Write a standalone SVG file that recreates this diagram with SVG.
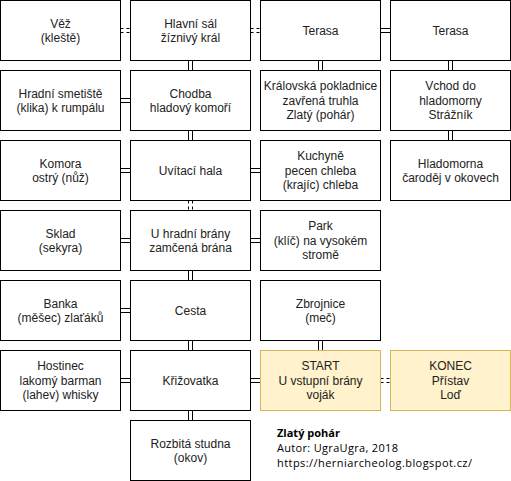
<svg xmlns="http://www.w3.org/2000/svg" width="511" height="481" viewBox="0 0 511 481">
<style>
.n rect{fill:#fff;stroke:#000;stroke-width:1}
.y rect{fill:#fff2cc;stroke:#d6b656;stroke-width:1}
.n text,.y text{font-family:"Liberation Sans",Arial,sans-serif;font-size:12px;fill:#222;text-anchor:middle}
.e line{stroke:#000;stroke-width:1}
.e .d{stroke-dasharray:3,3}
.note{font-family:"Open Sans","Noto Sans",sans-serif;font-size:11px;fill:#000}
</style>
<rect width="511" height="481" fill="#fff"/>
<g id="connectors" class="e">
<line class="d" x1="120.5" y1="28.5" x2="130.5" y2="28.5"/><line class="d" x1="120.5" y1="32.5" x2="130.5" y2="32.5"/>
<line class="d" x1="250.5" y1="28.5" x2="260.5" y2="28.5"/><line class="d" x1="250.5" y1="32.5" x2="260.5" y2="32.5"/>
<line x1="380.5" y1="28.5" x2="390.5" y2="28.5"/><line x1="380.5" y1="32.5" x2="390.5" y2="32.5"/>
<line x1="188.5" y1="60.5" x2="188.5" y2="70.5"/><line x1="192.5" y1="60.5" x2="192.5" y2="70.5"/>
<line x1="318.5" y1="60.5" x2="318.5" y2="70.5"/><line x1="322.5" y1="60.5" x2="322.5" y2="70.5"/>
<line x1="448.5" y1="60.5" x2="448.5" y2="70.5"/><line x1="452.5" y1="60.5" x2="452.5" y2="70.5"/>
<line x1="120.5" y1="98.5" x2="130.5" y2="98.5"/><line x1="120.5" y1="102.5" x2="130.5" y2="102.5"/>
<line x1="188.5" y1="130.5" x2="188.5" y2="140.5"/><line x1="192.5" y1="130.5" x2="192.5" y2="140.5"/>
<line x1="448.5" y1="130.5" x2="448.5" y2="140.5"/><line x1="452.5" y1="130.5" x2="452.5" y2="140.5"/>
<line x1="120.5" y1="168.5" x2="130.5" y2="168.5"/><line x1="120.5" y1="172.5" x2="130.5" y2="172.5"/>
<line x1="250.5" y1="168.5" x2="260.5" y2="168.5"/><line x1="250.5" y1="172.5" x2="260.5" y2="172.5"/>
<line class="d" x1="188.5" y1="200.5" x2="188.5" y2="210.5"/><line class="d" x1="192.5" y1="200.5" x2="192.5" y2="210.5"/>
<line x1="120.5" y1="238.5" x2="130.5" y2="238.5"/><line x1="120.5" y1="242.5" x2="130.5" y2="242.5"/>
<line x1="250.5" y1="238.5" x2="260.5" y2="238.5"/><line x1="250.5" y1="242.5" x2="260.5" y2="242.5"/>
<line x1="188.5" y1="270.5" x2="188.5" y2="280.5"/><line x1="192.5" y1="270.5" x2="192.5" y2="280.5"/>
<line x1="120.5" y1="308.5" x2="130.5" y2="308.5"/><line x1="120.5" y1="312.5" x2="130.5" y2="312.5"/>
<line x1="188.5" y1="340.5" x2="188.5" y2="350.5"/><line x1="192.5" y1="340.5" x2="192.5" y2="350.5"/>
<line x1="318.5" y1="340.5" x2="318.5" y2="350.5"/><line x1="322.5" y1="340.5" x2="322.5" y2="350.5"/>
<line x1="120.5" y1="378.5" x2="130.5" y2="378.5"/><line x1="120.5" y1="382.5" x2="130.5" y2="382.5"/>
<line x1="250.5" y1="378.5" x2="260.5" y2="378.5"/><line x1="250.5" y1="382.5" x2="260.5" y2="382.5"/>
<line class="d" x1="380.5" y1="378.5" x2="390.5" y2="378.5"/><line class="d" x1="380.5" y1="382.5" x2="390.5" y2="382.5"/>
<line x1="188.5" y1="410.5" x2="188.5" y2="420.5"/><line x1="192.5" y1="410.5" x2="192.5" y2="420.5"/>
</g>

<g id="vez" class="n"><rect x="0.5" y="0.5" width="120" height="60"/><text><tspan x="60.5" y="27.6">Věž</tspan><tspan x="60.5" y="42">(kleště)</tspan></text></g>
<g id="hlavni-sal" class="n"><rect x="130.5" y="0.5" width="120" height="60"/><text><tspan x="190.5" y="27.6">Hlavní sál</tspan><tspan x="190.5" y="42">žíznivý král</tspan></text></g>
<g id="terasa1" class="n"><rect x="260.5" y="0.5" width="120" height="60"/><text x="320.5" y="34.8">Terasa</text></g>
<g id="terasa2" class="n"><rect x="390.5" y="0.5" width="120" height="60"/><text x="450.5" y="34.8">Terasa</text></g>

<g id="smetiste" class="n"><rect x="0.5" y="70.5" width="120" height="60"/><text><tspan x="60.5" y="97.6">Hradní smetiště</tspan><tspan x="60.5" y="112">(klika) k rumpálu</tspan></text></g>
<g id="chodba" class="n"><rect x="130.5" y="70.5" width="120" height="60"/><text><tspan x="190.5" y="97.6">Chodba</tspan><tspan x="190.5" y="112">hladový komoří</tspan></text></g>
<g id="pokladnice" class="n"><rect x="260.5" y="70.5" width="120" height="60"/><text><tspan x="320.5" y="90.4">Královská pokladnice</tspan><tspan x="320.5" y="104.8">zavřená truhla</tspan><tspan x="320.5" y="119.2">Zlatý (pohár)</tspan></text></g>
<g id="vchod" class="n"><rect x="390.5" y="70.5" width="120" height="60"/><text><tspan x="450.5" y="90.4">Vchod do</tspan><tspan x="450.5" y="104.8">hladomorny</tspan><tspan x="450.5" y="119.2">Strážník</tspan></text></g>

<g id="komora" class="n"><rect x="0.5" y="140.5" width="120" height="60"/><text><tspan x="60.5" y="167.6">Komora</tspan><tspan x="60.5" y="182">ostrý (nůž)</tspan></text></g>
<g id="uvitaci-hala" class="n"><rect x="130.5" y="140.5" width="120" height="60"/><text x="190.5" y="174.8">Uvítací hala</text></g>
<g id="kuchyne" class="n"><rect x="260.5" y="140.5" width="120" height="60"/><text><tspan x="320.5" y="160.4">Kuchyně</tspan><tspan x="320.5" y="174.8">pecen chleba</tspan><tspan x="320.5" y="189.2">(krajíc) chleba</tspan></text></g>
<g id="hladomorna" class="n"><rect x="390.5" y="140.5" width="120" height="60"/><text><tspan x="450.5" y="167.6">Hladomorna</tspan><tspan x="450.5" y="182">čaroděj v okovech</tspan></text></g>

<g id="sklad" class="n"><rect x="0.5" y="210.5" width="120" height="60"/><text><tspan x="60.5" y="237.6">Sklad</tspan><tspan x="60.5" y="252">(sekyra)</tspan></text></g>
<g id="brana" class="n"><rect x="130.5" y="210.5" width="120" height="60"/><text><tspan x="190.5" y="237.6">U hradní brány</tspan><tspan x="190.5" y="252">zamčená brána</tspan></text></g>
<g id="park" class="n"><rect x="260.5" y="210.5" width="120" height="60"/><text><tspan x="320.5" y="230.4">Park</tspan><tspan x="320.5" y="244.8">(klíč) na vysokém</tspan><tspan x="320.5" y="259.2">stromě</tspan></text></g>

<g id="banka" class="n"><rect x="0.5" y="280.5" width="120" height="60"/><text><tspan x="60.5" y="307.6">Banka</tspan><tspan x="60.5" y="322">(měšec) zlaťáků</tspan></text></g>
<g id="cesta" class="n"><rect x="130.5" y="280.5" width="120" height="60"/><text x="190.5" y="314.8">Cesta</text></g>
<g id="zbrojnice" class="n"><rect x="260.5" y="280.5" width="120" height="60"/><text><tspan x="320.5" y="307.6">Zbrojnice</tspan><tspan x="320.5" y="322">(meč)</tspan></text></g>

<g id="hostinec" class="n"><rect x="0.5" y="350.5" width="120" height="60"/><text><tspan x="60.5" y="370.4">Hostinec</tspan><tspan x="60.5" y="384.8">lakomý barman</tspan><tspan x="60.5" y="399.2">(lahev) whisky</tspan></text></g>
<g id="krizovatka" class="n"><rect x="130.5" y="350.5" width="120" height="60"/><text x="190.5" y="384.8">Křižovatka</text></g>
<g id="start" class="y"><rect x="260.5" y="350.5" width="120" height="60"/><text><tspan x="320.5" y="370.4">START</tspan><tspan x="320.5" y="384.8">U vstupní brány</tspan><tspan x="320.5" y="399.2">voják</tspan></text></g>
<g id="konec" class="y"><rect x="390.5" y="350.5" width="120" height="60"/><text><tspan x="450.5" y="370.4">KONEC</tspan><tspan x="450.5" y="384.8">Přístav</tspan><tspan x="450.5" y="399.2">Loď</tspan></text></g>

<g id="studna" class="n"><rect x="130.5" y="420.5" width="120" height="60"/><text><tspan x="190.5" y="447.6">Rozbitá studna</tspan><tspan x="190.5" y="462">(okov)</tspan></text></g>

<g id="info">
<text class="note" x="277" y="437" font-weight="bold">Zlatý pohár</text>
<text class="note" x="277" y="452" textLength="121" lengthAdjust="spacing">Autor: UgraUgra, 2018</text>
<text class="note" x="277" y="467" textLength="195" lengthAdjust="spacing">https://herniarcheolog.blogspot.cz/</text>
</g>
</svg>
